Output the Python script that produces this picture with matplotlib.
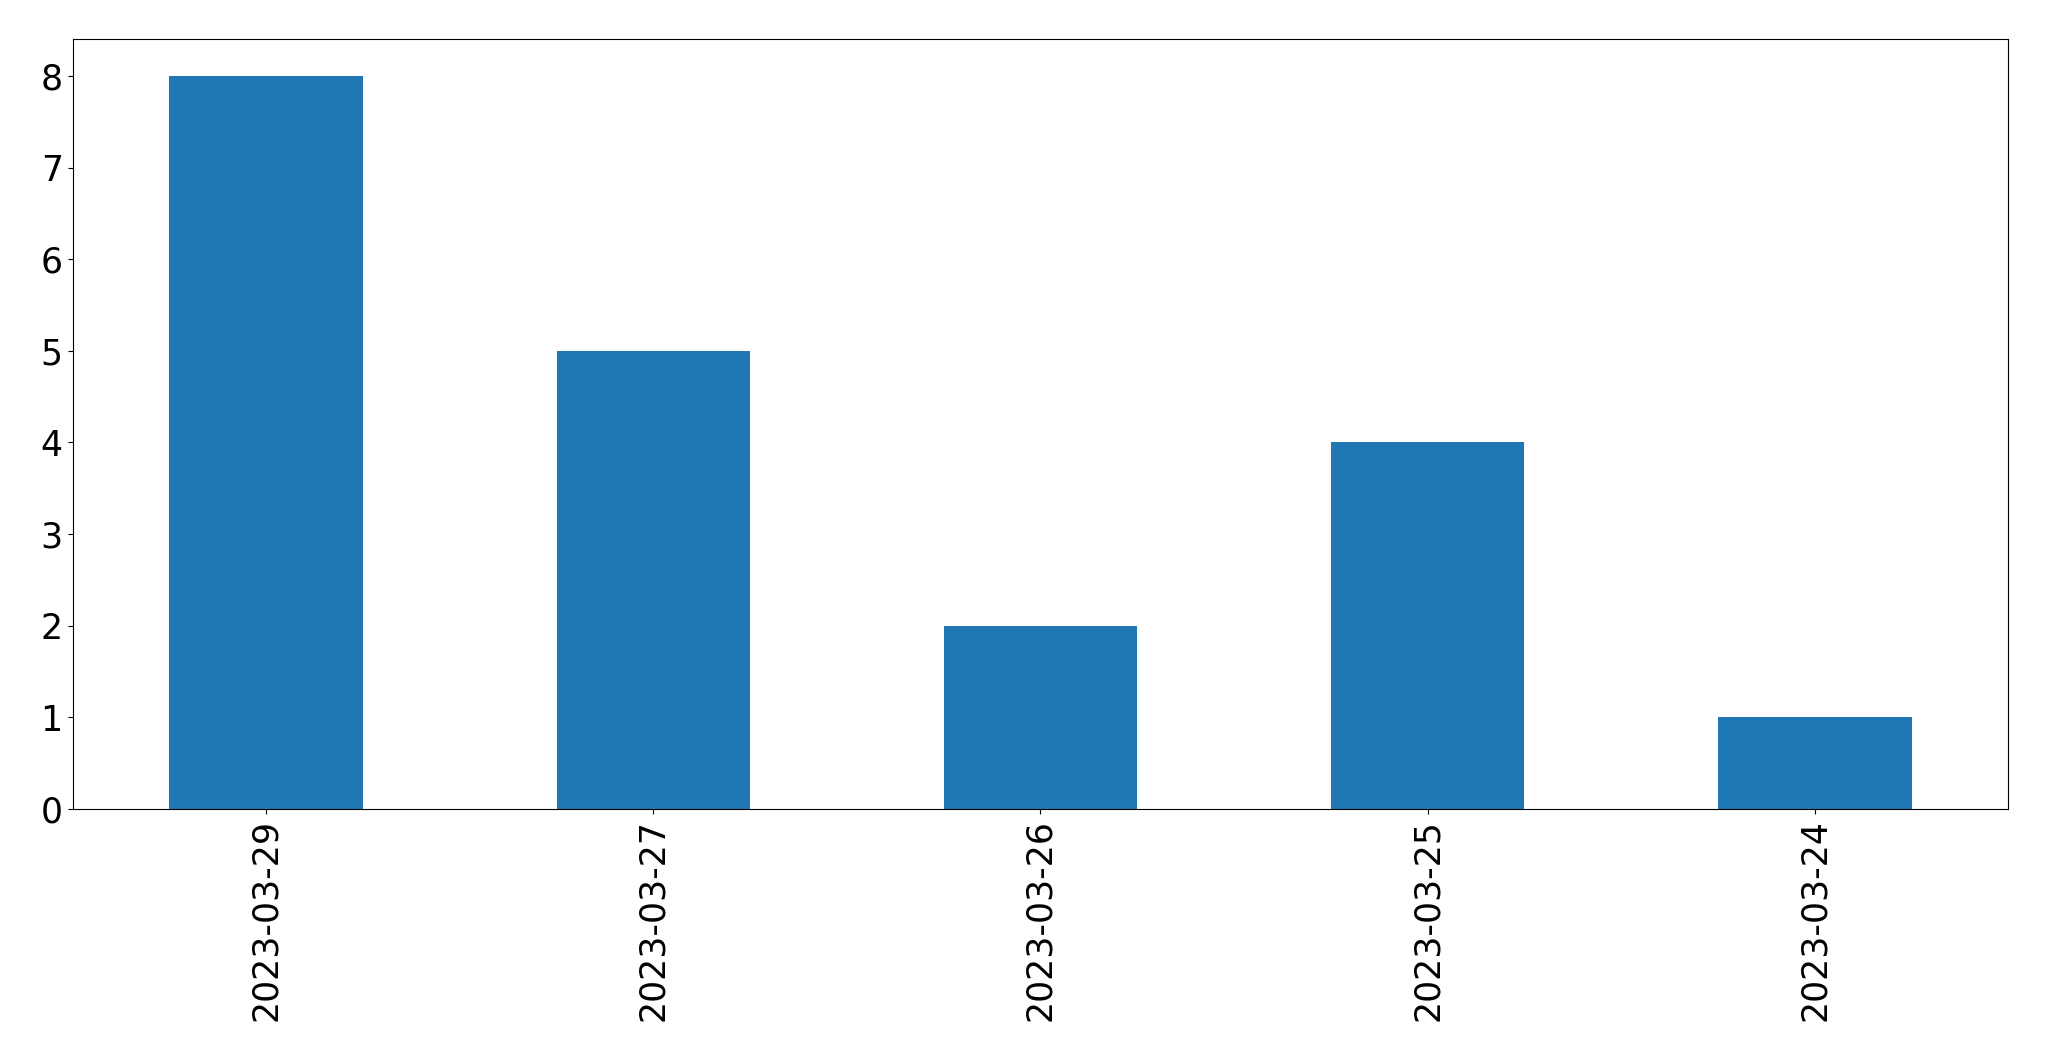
import pandas as pd
import matplotlib
matplotlib.use("Agg")
import matplotlib.pyplot as plt

# Counts per date, in the order shown on the chart
dates = ["2023-03-29", "2023-03-27", "2023-03-26", "2023-03-25", "2023-03-24"]
counts = [8, 5, 2, 4, 1]

series = pd.Series(counts, index=dates)

fig = plt.figure(figsize=(20.49, 10.61), dpi=100)
ax = fig.add_subplot(111)
series.plot(kind="bar", ax=ax, fontsize=25)
fig.subplots_adjust(left=0.0354, right=0.9802, top=0.963, bottom=0.2375)

fig.savefig("out.png", dpi=100)
